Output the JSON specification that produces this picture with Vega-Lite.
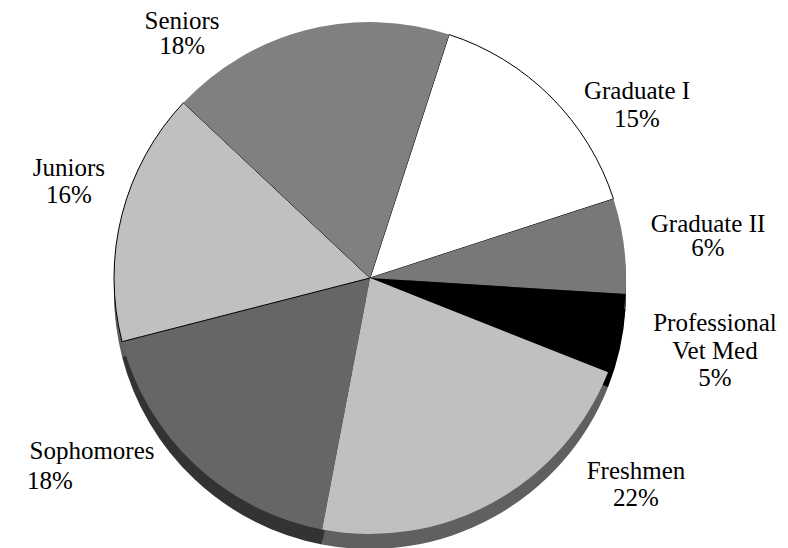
{
  "$schema": "https://vega.github.io/schema/vega-lite/v6.json",
  "autosize": {"type": "none"},
  "width": 740,
  "height": 540,
  "padding": {"left": 0, "top": 8, "right": 48, "bottom": 0},
  "background": "white",
  "config": {"view": {"stroke": null}, "text": {"font": "Liberation Serif", "fontSize": 25, "lineBreak": "\n", "baseline": "middle", "align": "center", "color": "black"}},
  "data": {
    "values": [
      {"i": 1, "cat": "Graduate I", "value": 15, "label": "Graduate I\n15%", "pct": "15%"},
      {"i": 2, "cat": "Graduate II", "value": 6, "label": "Graduate II\n6%", "pct": "6%"},
      {"i": 3, "cat": "Professional Vet Med", "value": 5, "label": "Professional\nVet Med\n5%", "pct": "5%"},
      {"i": 4, "cat": "Freshmen", "value": 22, "label": "Freshmen\n22%", "pct": "22%"},
      {"i": 5, "cat": "Sophomores", "value": 18, "label": "Sophomores\n18%", "pct": "18%"},
      {"i": 6, "cat": "Juniors", "value": 16, "label": "Juniors\n16%", "pct": "16%"},
      {"i": 7, "cat": "Seniors", "value": 18, "label": "Seniors\n18%", "pct": "18%"}
    ]
  },
  "encoding": {
    "theta": {"field": "value", "type": "quantitative", "stack": true, "scale": {"domain": [0, 100], "range": [0.31416, 6.59734]}},
    "order": {"field": "i", "type": "quantitative"}
  },
  "layer": [
    {
      "mark": {"type": "arc", "radius": 256, "yOffset": 6},
      "encoding": {"fill": {"field": "cat", "type": "nominal", "legend": null,
        "scale": {"domain": ["Graduate I", "Graduate II", "Professional Vet Med", "Freshmen", "Sophomores", "Juniors", "Seniors"],
                  "range": ["#808080", "#3c3c3c", "#000000", "#606060", "#333333", "#606060", "#404040"]}}}
    },
    {
      "mark": {"type": "arc", "radius": 256, "yOffset": 11},
      "encoding": {"fill": {"field": "cat", "type": "nominal", "legend": null}}
    },
    {
      "mark": {"type": "arc", "radius": 256, "yOffset": 15},
      "encoding": {"fill": {"field": "cat", "type": "nominal", "legend": null}}
    },
    {
      "mark": {"type": "arc", "radius": 256, "stroke": "black"},
      "encoding": {
        "color": {"field": "cat", "type": "nominal", "legend": null,
          "scale": {"domain": ["Graduate I", "Graduate II", "Professional Vet Med", "Freshmen", "Sophomores", "Juniors", "Seniors"],
                    "range": ["#ffffff", "#787878", "#000000", "#c0c0c0", "#666666", "#c0c0c0", "#808080"]}},
        "strokeWidth": {"condition": {"test": "datum.cat === 'Graduate I' || datum.cat === 'Juniors'", "value": 1}, "value": 0}
      }
    },
    {
      "mark": {"type": "text", "radius": 325.7, "thetaOffset": 0.1756, "lineHeight": 28},
      "encoding": {"text": {"condition": {"test": "datum.cat === 'Graduate I'", "field": "label"}, "value": ""}}
    },
    {
      "mark": {"type": "text", "radius": 342.3, "thetaOffset": -0.0328, "lineHeight": 24.5},
      "encoding": {"text": {"condition": {"test": "datum.cat === 'Graduate II'", "field": "label"}, "value": ""}}
    },
    {
      "mark": {"type": "text", "radius": 348, "thetaOffset": -0.0888, "lineHeight": 27.5},
      "encoding": {"text": {"condition": {"test": "datum.cat === 'Professional Vet Med'", "field": "label"}, "value": ""}}
    },
    {
      "mark": {"type": "text", "radius": 328.6, "thetaOffset": -0.4405, "lineHeight": 27},
      "encoding": {"text": {"condition": {"test": "datum.cat === 'Freshmen'", "field": "label"}, "value": ""}}
    },
    {
      "mark": {"type": "text", "radius": 327.7, "thetaOffset": 0.2589},
      "encoding": {"text": {"condition": {"test": "datum.cat === 'Sophomores'", "field": "cat"}, "value": ""}}
    },
    {
      "mark": {"type": "text", "radius": 378.7, "thetaOffset": 0.2525},
      "encoding": {"text": {"condition": {"test": "datum.cat === 'Sophomores'", "field": "pct"}, "value": ""}}
    },
    {
      "mark": {"type": "text", "radius": 320.5, "thetaOffset": 0.099, "lineHeight": 27},
      "encoding": {"text": {"condition": {"test": "datum.cat === 'Juniors'", "field": "label"}, "value": ""}}
    },
    {
      "mark": {"type": "text", "radius": 318, "thetaOffset": -0.381, "lineHeight": 25},
      "encoding": {"text": {"condition": {"test": "datum.cat === 'Seniors'", "field": "label"}, "value": ""}}
    }
  ]
}
